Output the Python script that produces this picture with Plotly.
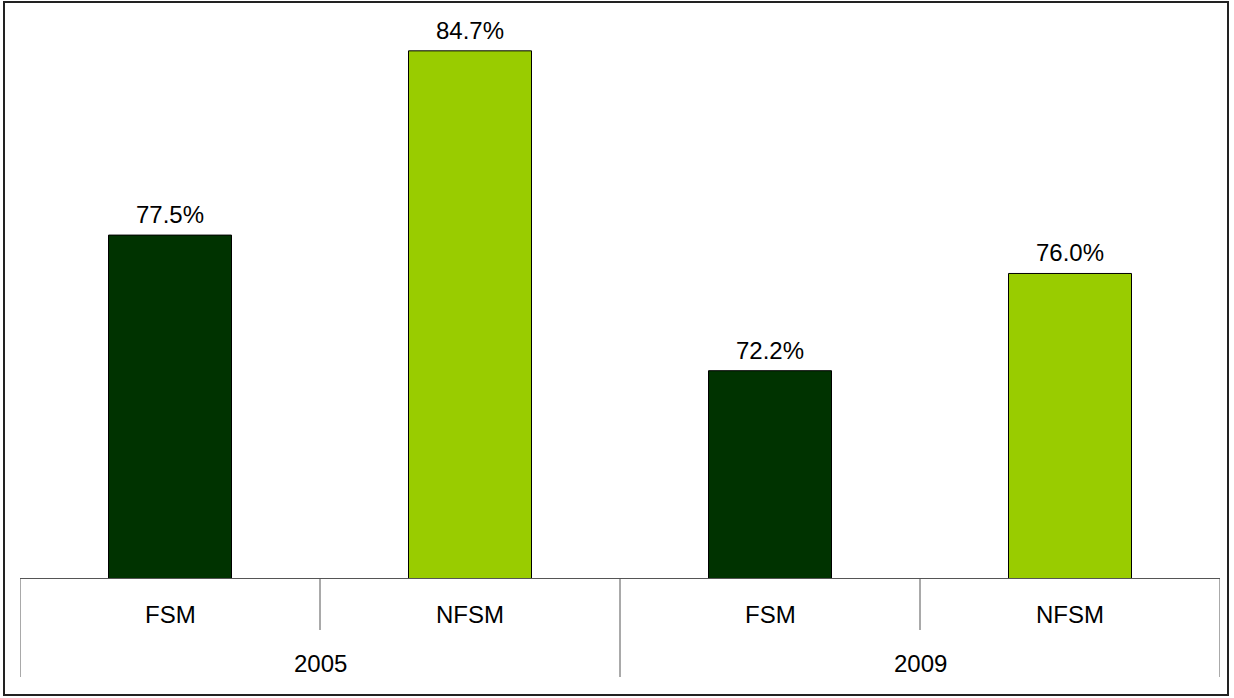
import plotly.graph_objects as go

# Data
years = ["2005", "2009"]
groups = ["FSM", "NFSM", "FSM", "NFSM"]
values = [77.5, 84.7, 72.2, 76.0]
bar_colors = ["#003300", "#99CC00", "#003300", "#99CC00"]

# Layout geometry (pixels)
W, H = 1234, 698
ML, MR, MT, MB = 20, 14, 15, 120
plot_h = H - MT - MB
plot_w = W - ML - MR
FONT = "Liberation Sans, Arial"

def py(px):
    """Pixel row -> paper y coordinate."""
    return (H - MB - px) / plot_h

def pxx(px):
    """Pixel column -> paper x coordinate."""
    return (px - ML) / plot_w

xs = [i + 0.5 for i in range(len(values))]

fig = go.Figure(
    go.Bar(
        x=xs,
        y=values,
        width=0.41,
        marker=dict(color=bar_colors, line=dict(color="#000000", width=1)),
        hoverinfo="y",
    )
)

fig.update_layout(
    width=W,
    height=H,
    margin=dict(l=ML, r=MR, t=MT, b=MB),
    paper_bgcolor="white",
    plot_bgcolor="white",
    showlegend=False,
    font=dict(family=FONT, size=24, color="#000000"),
    xaxis=dict(
        range=[0, len(values)],
        showticklabels=False,
        ticks="",
        showgrid=False,
        zeroline=False,
        showline=True,
        linecolor="#555555",
        linewidth=1,
        fixedrange=True,
    ),
    yaxis=dict(
        range=[64.1, 86.1],
        visible=False,
        showgrid=False,
        zeroline=False,
        fixedrange=True,
    ),
)

shapes = []
# Category dividers below the axis
for i in range(len(values) + 1):
    long = i % 2 == 0
    shapes.append(dict(
        type="line", xref="x", yref="paper",
        x0=i, x1=i, y0=0, y1=py(677 if long else 630),
        line=dict(color="#555555", width=1),
    ))
# Outer frame
shapes.append(dict(
    type="rect", xref="paper", yref="paper",
    x0=pxx(4), x1=pxx(1228), y0=py(695), y1=py(2),
    line=dict(color="#222222", width=2),
    fillcolor="rgba(0,0,0,0)",
))
fig.update_layout(shapes=shapes)

annotations = []
# Value labels above bars
for x, v in zip(xs, values):
    annotations.append(dict(
        x=x, y=v, xref="x", yref="y", text=f"{v:.1f}%",
        showarrow=False, xanchor="center", yanchor="bottom", yshift=5,
        font=dict(size=24),
    ))
# Group labels
for x, g in zip(xs, groups):
    annotations.append(dict(
        x=x, y=py(614), xref="x", yref="paper", text=g,
        showarrow=False, xanchor="center", yanchor="middle",
        font=dict(size=24),
    ))
# Year labels
for j, yr in enumerate(years):
    annotations.append(dict(
        x=2 * j + 1, y=py(663), xref="x", yref="paper", text=yr,
        showarrow=False, xanchor="center", yanchor="middle",
        font=dict(size=24),
    ))
fig.update_layout(annotations=annotations)

fig.write_html("out.html")
